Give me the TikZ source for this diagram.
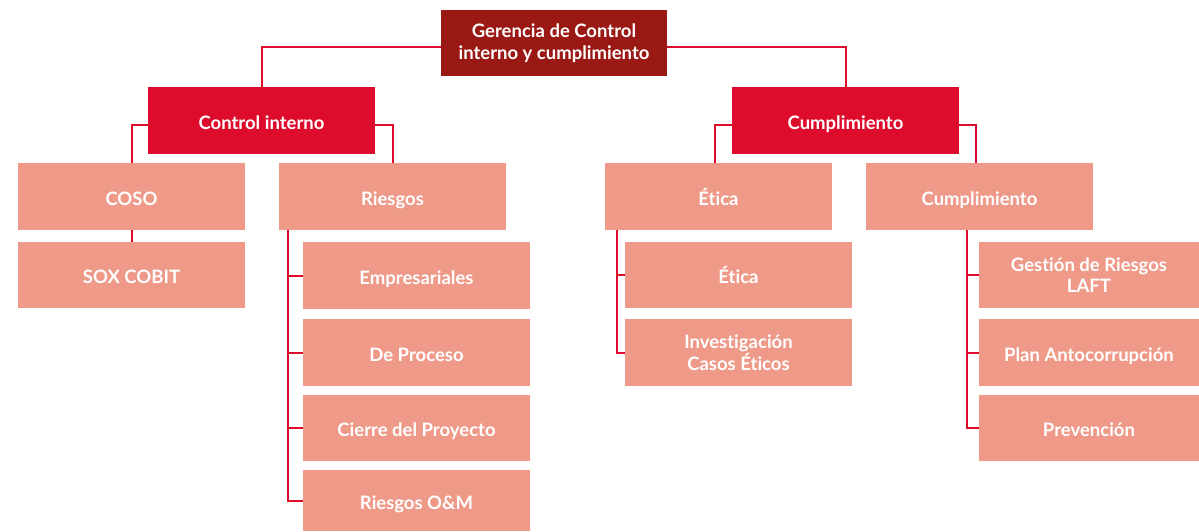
\documentclass[tikz,border=0pt]{standalone}
\usepackage{fontspec}
\setmainfont{Lato}[Ligatures=NoCommon]
\definecolor{topred}{HTML}{9B1915}
\definecolor{midred}{HTML}{DE0C2C}
\definecolor{salmon}{HTML}{EF9988}
\begin{document}
\begin{tikzpicture}[x=1pt,y=-1pt,
  boxbase/.style={rectangle,inner sep=0pt,text=white,align=center,
    font=\fontsize{18.5}{21.5}\selectfont\bfseries,minimum width=227pt,minimum height=67pt},
  oneline/.style={text height=17.5pt,text depth=0pt},
  topbox/.style={boxbase,fill=topred,minimum width=226pt,minimum height=66pt},
  midbox/.style={boxbase,oneline,fill=midred},
  leafbox/.style={boxbase,fill=salmon},
  conn/.style={draw=midred,line width=2pt}]
\useasboundingbox (0,0) rectangle (1199,531);
\node[topbox] (top) at (554,43) {Gerencia de Control\\interno y cumplimiento};
\node[midbox] (ci) at (261.5,120.5) {Control interno};
\node[midbox] (cu) at (845.5,120.5) {Cumplimiento};
\node[leafbox,oneline] (coso) at (131.5,196.5) {COSO};
\node[leafbox,oneline] (rie) at (392.5,196.5) {Riesgos};
\node[leafbox,oneline] (eti) at (718.5,196.5) {Ética};
\node[leafbox,oneline] (cum) at (979.5,196.5) {Cumplimiento};
\node[leafbox,oneline,minimum height=66pt] (sox) at (131.5,275) {SOX COBIT};
\node[leafbox,oneline] (emp) at (416.5,275.5) {Empresariales};
\node[leafbox,oneline] (pro) at (416.5,352.5) {De Proceso};
\node[leafbox,oneline,minimum height=66pt] (cie) at (416.5,428) {Cierre del Proyecto};
\node[leafbox,oneline,minimum height=61pt] (om) at (416.5,500.5) {Riesgos O\&M};
\node[leafbox,oneline,minimum height=66pt] (eti2) at (738.5,275) {Ética};
\node[leafbox] (inv) at (738.5,352.5) {Investigación\\Casos Éticos};
\node[leafbox,minimum width=220pt,minimum height=66pt] (gr) at (1089,275) {Gestión de Riesgos\\LAFT};
\node[leafbox,oneline,minimum width=220pt] (plan) at (1089,352.5) {Plan Antocorrupción};
\node[leafbox,oneline,minimum width=220pt,minimum height=66pt] (prev) at (1089,428) {Prevención};
\draw[conn] ([yshift=-4pt]top.west) -| (ci.north);
\draw[conn] ([yshift=-4pt]top.east) -| (cu.north);
\draw[conn] ([yshift=-4pt]ci.west) -| (coso.north);
\draw[conn] ([yshift=-4pt]ci.east) -| (rie.north);
\draw[conn] ([yshift=-4pt]cu.west) -| ([xshift=-3.5pt]eti.north);
\draw[conn] ([yshift=-4pt]cu.east) -| ([xshift=-3.5pt]cum.north);
\draw[conn] (coso.south) -- (sox.north);
\coordinate (rv) at ([xshift=-15pt]emp.west);
\draw[conn] (rv |- rie.south) |- (emp.west);
\draw[conn] (rv |- rie.south) |- (pro.west);
\draw[conn] (rv |- rie.south) |- (cie.west);
\draw[conn] (rv |- rie.south) |- (om.west);
\coordinate (ev) at ([xshift=-8pt]eti2.west);
\draw[conn] (ev |- eti.south) |- (eti2.west);
\draw[conn] (ev |- eti.south) |- (inv.west);
\coordinate (cv) at ([xshift=-12pt]gr.west);
\draw[conn] (cv |- cum.south) |- (gr.west);
\draw[conn] (cv |- cum.south) |- (plan.west);
\draw[conn] (cv |- cum.south) |- (prev.west);
\end{tikzpicture}
\end{document}
